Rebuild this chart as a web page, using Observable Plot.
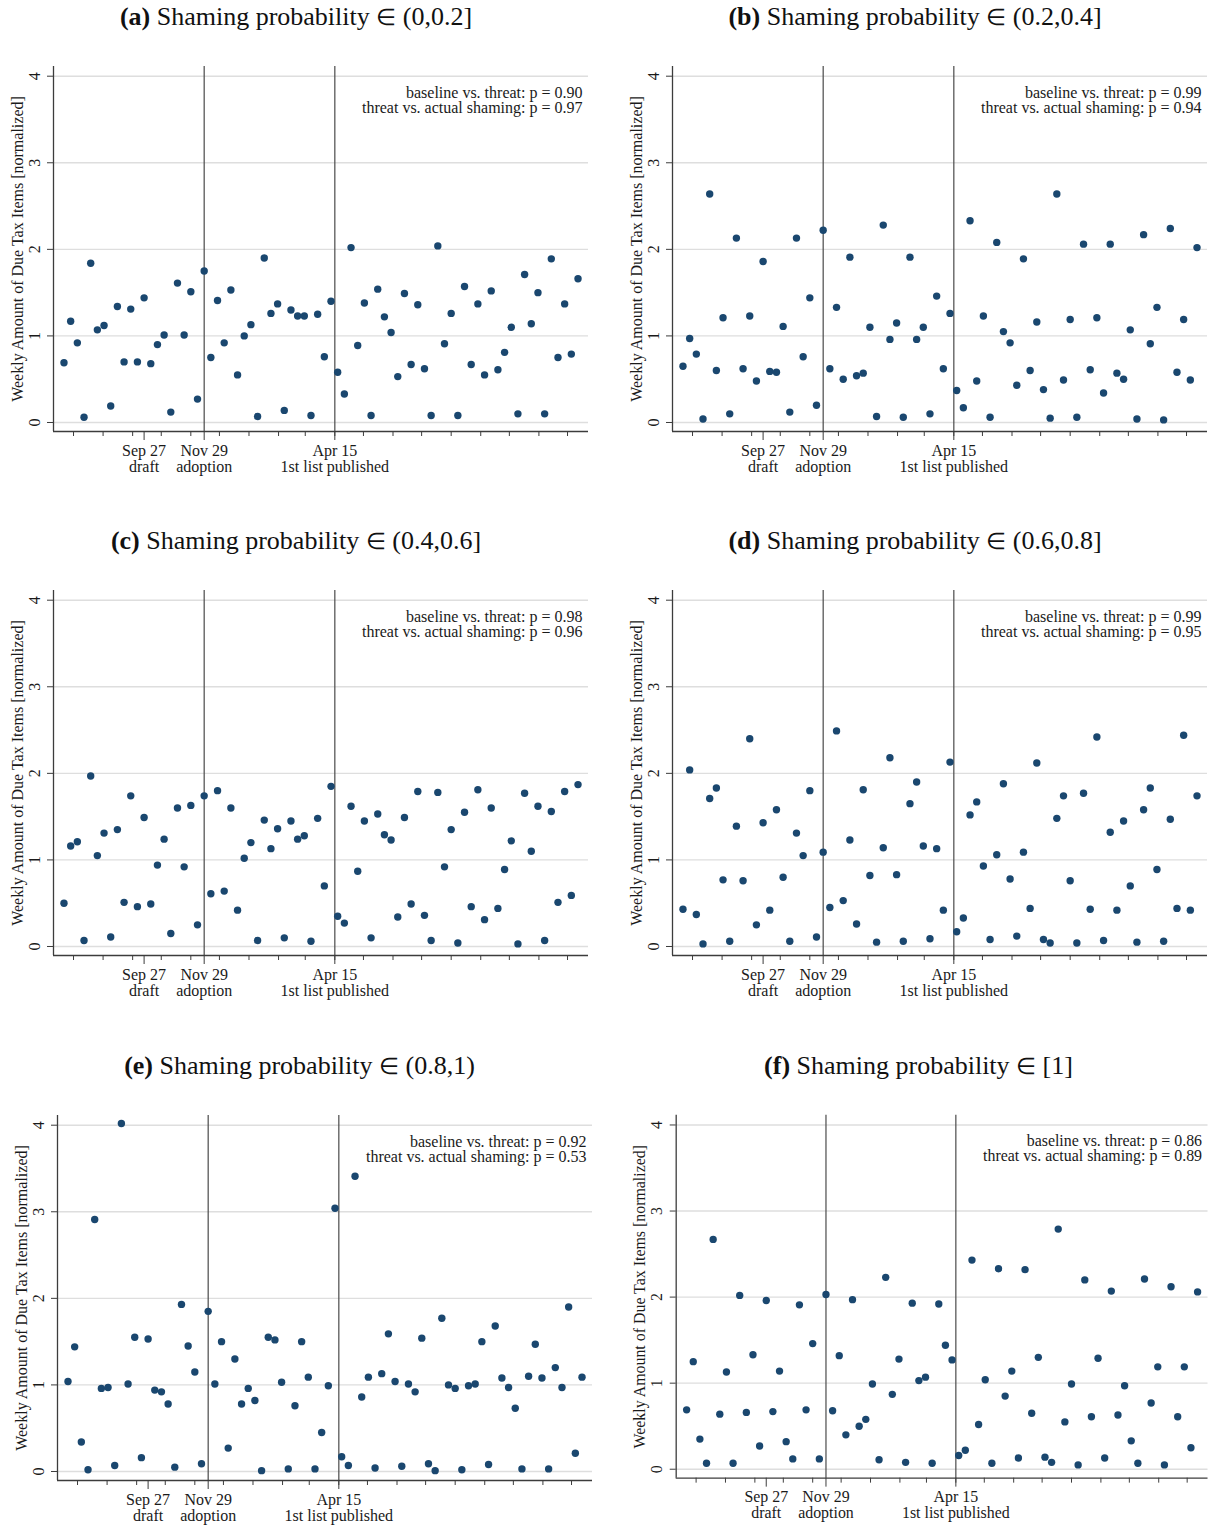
<!DOCTYPE html>
<html>
<head>
<meta charset="utf-8">
<script src="https://cdn.jsdelivr.net/npm/d3@7"></script>
<script src="https://cdn.jsdelivr.net/npm/@observablehq/plot@0.6"></script>
<style>
  html, body { margin: 0; padding: 0; background: #fff; width: 1211px; height: 1525px; overflow: hidden; }
  #root { position: relative; width: 1211px; height: 1525px; }
  .title { position: absolute; width: 592px; text-align: center; font-family: 'Liberation Serif', 'Times New Roman', serif; font-size: 26px; line-height: 34px; color: #111; white-space: nowrap; }
  .title b { font-weight: bold; }
  .title .el { font-size: 23px; }
  .panel { position: absolute; }
</style>
</head>
<body>
<div id="root"></div>
<script>
// ---- data ----
const panelIds = ["(a)", "(b)", "(c)", "(d)", "(e)", "(f)"];
const panelRanges = ["(0,0.2]", "(0.2,0.4]", "(0.4,0.6]", "(0.6,0.8]", "(0.8,1)", "[1]"];
const pBaselineThreat = ["0.90", "0.99", "0.98", "0.99", "0.92", "0.86"];
const pThreatShaming = ["0.97", "0.94", "0.96", "0.95", "0.53", "0.89"];

const valuesA = [0.69,1.17,0.92,0.06,1.84,1.07,1.12,0.19,1.34,0.70,1.31,0.70,1.44,0.68,0.90,1.01,0.12,1.61,1.01,1.51,0.27,1.75,0.75,1.41,0.92,1.53,0.55,1.00,1.13,0.07,1.90,1.26,1.37,0.14,1.30,1.23,1.23,0.08,1.25,0.76,1.40,0.58,0.33,2.02,0.89,1.38,0.08,1.54,1.22,1.04,0.53,1.49,0.67,1.36,0.62,0.08,2.04,0.91,1.26,0.08,1.57,0.67,1.37,0.55,1.52,0.61,0.81,1.10,0.10,1.71,1.14,1.50,0.10,1.89,0.75,1.37,0.79,1.66];
const valuesB = [0.65,0.97,0.79,0.04,2.64,0.60,1.21,0.10,2.13,0.62,1.23,0.48,1.86,0.59,0.58,1.11,0.12,2.13,0.76,1.44,0.20,2.22,0.62,1.33,0.50,1.91,0.54,0.57,1.10,0.07,2.28,0.96,1.15,0.06,1.91,0.96,1.10,0.10,1.46,0.62,1.26,0.37,0.17,2.33,0.48,1.23,0.06,2.08,1.05,0.92,0.43,1.89,0.60,1.16,0.38,0.05,2.64,0.49,1.19,0.06,2.06,0.61,1.21,0.34,2.06,0.57,0.50,1.07,0.04,2.17,0.91,1.33,0.03,2.24,0.58,1.19,0.49,2.02];
const valuesC = [0.50,1.16,1.21,0.07,1.97,1.05,1.31,0.11,1.35,0.51,1.74,0.46,1.49,0.49,0.94,1.24,0.15,1.60,0.92,1.63,0.25,1.74,0.61,1.80,0.64,1.60,0.42,1.02,1.20,0.07,1.46,1.13,1.36,0.10,1.45,1.24,1.28,0.06,1.48,0.70,1.85,0.35,0.27,1.62,0.87,1.45,0.10,1.53,1.29,1.23,0.34,1.49,0.49,1.79,0.36,0.07,1.78,0.92,1.35,0.04,1.55,0.46,1.81,0.31,1.60,0.44,0.89,1.22,0.03,1.77,1.10,1.62,0.07,1.56,0.51,1.79,0.59,1.87];
const valuesD = [0.43,2.04,0.37,0.03,1.71,1.83,0.77,0.06,1.39,0.76,2.40,0.25,1.43,0.42,1.58,0.80,0.06,1.31,1.05,1.80,0.11,1.09,0.45,2.49,0.53,1.23,0.26,1.81,0.82,0.05,1.14,2.18,0.83,0.06,1.65,1.90,1.16,0.09,1.13,0.42,2.13,0.17,0.33,1.52,1.67,0.93,0.08,1.06,1.88,0.78,0.12,1.09,0.44,2.12,0.08,0.04,1.48,1.74,0.76,0.04,1.77,0.43,2.42,0.07,1.32,0.42,1.45,0.70,0.05,1.58,1.83,0.89,0.06,1.47,0.44,2.44,0.42,1.74];
const valuesE = [1.04,1.44,0.34,0.02,2.91,0.96,0.97,0.07,4.02,1.01,1.55,0.16,1.53,0.94,0.92,0.78,0.05,1.93,1.45,1.15,0.09,1.85,1.01,1.50,0.27,1.30,0.78,0.96,0.82,0.01,1.55,1.52,1.03,0.03,0.76,1.50,1.09,0.03,0.45,0.99,3.04,0.17,0.07,3.41,0.86,1.09,0.04,1.13,1.59,1.04,0.06,1.01,0.92,1.54,0.09,0.01,1.77,1.00,0.96,0.02,0.99,1.01,1.50,0.08,1.68,1.08,0.97,0.73,0.03,1.10,1.47,1.08,0.03,1.20,0.97,1.90,0.21,1.09];
const valuesF = [0.69,1.25,0.35,0.07,2.67,0.64,1.13,0.07,2.02,0.66,1.33,0.27,1.96,0.67,1.14,0.32,0.12,1.91,0.69,1.46,0.12,2.03,0.68,1.32,0.40,1.97,0.50,0.58,0.99,0.11,2.23,0.87,1.28,0.08,1.93,1.03,1.07,0.07,1.92,1.44,1.27,0.16,0.22,2.43,0.52,1.04,0.07,2.33,0.85,1.14,0.13,2.32,0.65,1.30,0.14,0.08,2.79,0.55,0.99,0.05,2.20,0.61,1.29,0.13,2.07,0.63,0.97,0.33,0.07,2.21,0.77,1.19,0.05,2.12,0.61,1.19,0.25,2.06];
const allValues = [valuesA, valuesB, valuesC, valuesD, valuesE, valuesF];

// weekly observations, first week of the window
const firstWeek = "2012-07-05";
const eventDates = ["2012-09-27", "2012-11-29", "2013-04-15"];
const eventLabels = ["Sep 27\ndraft", "Nov 29\nadoption", "Apr 15\n1st list published"];
const eventLines = ["2012-11-29", "2013-04-15"];
const yTicks = [0, 1, 2, 3, 4];
const yLabel = "Weekly Amount of Due Tax Items [normalized]";

// ---- helpers ----
const parse = d3.utcParse("%Y-%m-%d");
const t0 = parse(firstWeek);
const weeks = d3.range(valuesA.length).map(i => d3.utcDay.offset(t0, 7 * i));
const xMin = parse("2012-06-24"), xMax = parse("2014-01-06");
const minorTicks = d3.utcMonth.range(parse("2012-07-01"), parse("2014-01-01")).map(d => d3.utcDay.offset(d, 14));
const majorTicks = eventDates.map(parse);
const labelMap = new Map(majorTicks.map((d, i) => [+d, eventLabels[i]]));
const lines = eventLines.map(parse);
const yDomain = [-0.104, 4.112];

const layout = [
  {left: 0, top: 0}, {left: 619, top: 0},
  {left: 0, top: 524}, {left: 619, top: 524},
  {left: 3.5, top: 1049}, {left: 622.5, top: 1049}
];

const root = document.getElementById("root");
const navy = "#1a476f";
const axisColor = "#3c3c3c";

allValues.forEach((vals, k) => {
  const pos = layout[k];
  const title = document.createElement("div");
  title.className = "title";
  title.style.left = pos.left + "px";
  title.style.top = pos.top + "px";
  title.innerHTML = `<b>${panelIds[k]}</b> Shaming probability <span class="el">\u2208</span> ${panelRanges[k]}`;
  root.appendChild(title);

  const data = vals.map((v, i) => ({date: weeks[i], v}));
  const annotation = `baseline vs. threat: p = ${pBaselineThreat[k]}\nthreat vs. actual shaming: p = ${pThreatShaming[k]}`;

  const chart = Plot.plot({
    width: 592, height: 440,
    marginLeft: 53, marginRight: 4, marginTop: 26, marginBottom: 49,
    style: {fontFamily: "'Liberation Serif', serif", fontSize: "16px", color: "#1a1a1a", background: "transparent", overflow: "visible"},
    x: {type: "utc", domain: [xMin, xMax]},
    y: {domain: yDomain},
    marks: [
      Plot.ruleY(yTicks, {stroke: "#dedede", strokeWidth: 1.4}),
      Plot.ruleX(lines, {stroke: "#4a4a4a", strokeWidth: 1.2}),
      Plot.ruleY([yDomain[0]], {stroke: axisColor, strokeWidth: 1.3}),
      Plot.ruleX([xMin], {stroke: axisColor, strokeWidth: 1.3}),
      Plot.axisX({ticks: minorTicks, tickSize: 5, tickFormat: () => "", label: null, stroke: axisColor}),
      Plot.axisX({ticks: majorTicks, tickSize: 9, tickPadding: 4, tickFormat: d => labelMap.get(+d), label: null, stroke: axisColor, lineHeight: 1.0}),
      Plot.axisY({ticks: yTicks, tickSize: 6, tickFormat: () => "", label: null, stroke: axisColor}),
      Plot.text(yTicks, {x: () => xMin, y: d => d, text: d => String(d), rotate: -90, dx: -14, lineAnchor: "bottom", textAnchor: "middle", fill: "#1a1a1a"}),
      Plot.text([yLabel], {frameAnchor: "left", rotate: -90, dx: -36, lineAnchor: "middle", textAnchor: "middle", fill: "#1a1a1a"}),
      Plot.dot(data, {x: "date", y: "v", r: 3.7, fill: navy, stroke: "none"}),
      Plot.text([annotation], {frameAnchor: "top-right", textAnchor: "end", lineAnchor: "top", dx: -6, dy: 20.5, lineHeight: 0.94, fill: "#1a1a1a"})
    ]
  });
  const wrap = document.createElement("div");
  wrap.className = "panel";
  wrap.style.left = pos.left + "px";
  wrap.style.top = (pos.top + 40) + "px";
  wrap.appendChild(chart);
  root.appendChild(wrap);
});
</script>
</body>
</html>
